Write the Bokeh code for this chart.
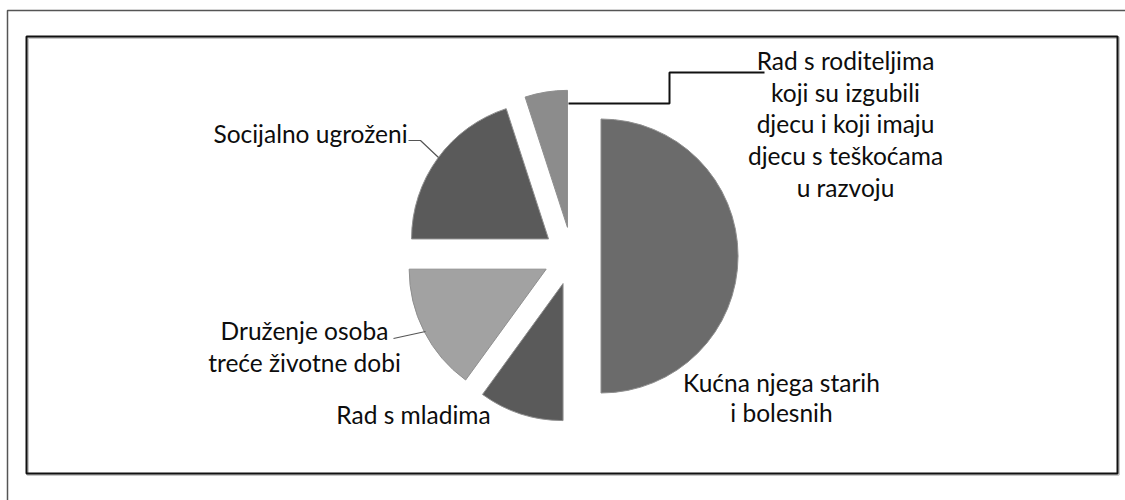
import math
from bokeh.plotting import figure
from bokeh.models import Range1d, ColumnDataSource
from bokeh.core.properties import value
from bokeh.embed import file_html
from bokeh.resources import INLINE

# ---- data ----
categories = [
    "Kućna njega starih i bolesnih",
    "Rad s mladima",
    "Druženje osoba treće životne dobi",
    "Socijalno ugroženi",
    "Rad s roditeljima koji su izgubili djecu i koji imaju djecu s teškoćama u razvoju",
]
shares = [50, 10, 15, 20, 5]
colors = ["#6b6b6b", "#5a5a5a", "#a2a2a2", "#5a5a5a", "#8c8c8c"]

W, H = 1125, 500
IMG_H = 500

def X(x):  # image px -> data
    return x

def Y(y):
    return IMG_H - y

p = figure(width=W, height=H, output_backend="svg", toolbar_location=None,
           x_range=Range1d(0, W), y_range=Range1d(IMG_H - H, IMG_H),
           min_border=0)
p.axis.visible = False
p.grid.visible = False
p.outline_line_color = None
p.background_fill_color = "white"
p.border_fill_color = "white"

# outer frame (top and left edges visible)
p.line([X(7), X(7), X(1125)], [Y(500), Y(10), Y(10)], line_color="#555555", line_width=1.5)
# inner chart box with soft shadow
p.quad(left=X(27), right=X(1118), top=Y(37), bottom=Y(474), fill_color=None,
       line_color="#c8c8c8", line_width=3)
p.quad(left=X(26), right=X(1117), top=Y(36), bottom=Y(473), fill_color=None,
       line_color="#111111", line_width=2)

# ---- exploded pie ----
cx, cy = 571.5, 255.5   # image px
r = 137
d = 29
total = sum(shares)
xs, ys, sa, ea = [], [], [], []
acc = 0.0
for s in shares:
    t1 = acc / total * 360.0
    t2 = (acc + s) / total * 360.0
    tm = math.radians((t1 + t2) / 2)
    xs.append(X(cx + d * math.sin(tm)))
    ys.append(Y(cy - d * math.cos(tm)))
    sa.append(math.radians(90 - t2))
    ea.append(math.radians(90 - t1))
    acc += s
src = ColumnDataSource(dict(x=xs, y=ys, sa=sa, ea=ea, c=colors))
p.wedge(x="x", y="y", radius=r, start_angle="sa", end_angle="ea", fill_color="c",
        line_color="#8f8f8f", line_width=1, source=src)

# ---- leader lines ----
p.line([X(408), X(420), X(438)], [Y(140), Y(140), Y(157)], line_color="#555555", line_width=1.2)
p.line([X(393), X(425)], [Y(338), Y(331)], line_color="#555555", line_width=1.2)
p.line([X(568), X(669), X(669), X(764)], [Y(103), Y(103), Y(72), Y(72)],
       line_color="#111111", line_width=2)

# ---- labels ----
font = value("Lato")
fs = "24.5px"
lab_lines = [
    (["Rad s roditeljima", "koji su izgubili", "djecu i koji imaju",
      "djecu s teškoćama", "u razvoju"], 845, 60, 31.7, "center"),
    (["Socijalno ugroženi"], 310, 133, 31, "center"),
    (["Druženje osoba", "treće životne dobi"], 304, 330, 32, "center"),
    (["Rad s mladima"], 413, 414, 31, "center"),
    (["Kućna njega starih", "i bolesnih"], 781, 382, 30, "center"),
]
for lines, lx, ly, lh, al in lab_lines:
    for i, t in enumerate(lines):
        p.text(x=[X(lx)], y=[Y(ly + i * lh)], text=[t], text_font=font,
               text_font_size=fs, text_color="#0d0d0d", text_align=al,
               text_baseline="middle")

open("out.html", "w").write(file_html(p, INLINE))
